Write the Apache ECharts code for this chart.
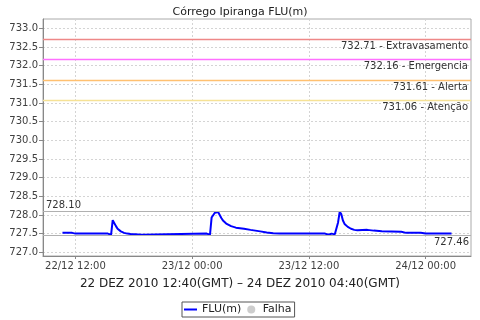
<!DOCTYPE html>
<html><head><meta charset="utf-8">
<script src="https://cdn.jsdelivr.net/npm/echarts@6/dist/echarts.min.js"></script>
<style>html,body{margin:0;padding:0;background:#fff}#c{width:480px;height:320px}</style>
</head><body><div id="c"></div>
<script>
const titleText = 'Córrego Ipiranga FLU(m)';
const periodText = '22 DEZ 2010 12:40(GMT) – 24 DEZ 2010 04:40(GMT)';
const seriesName = 'FLU(m)';
const failName = 'Falha';
const xMin = '2010-12-22 08:40';
const xMax = '2010-12-24 04:40';
const yMin = 726.9;
const yMax = 733.25;

const times = [
  '2010-12-22 10:40','2010-12-22 11:40','2010-12-22 12:00','2010-12-22 12:30','2010-12-22 12:40','2010-12-22 12:50',
  '2010-12-22 15:20','2010-12-22 15:30','2010-12-22 15:40','2010-12-22 15:50','2010-12-22 16:00','2010-12-22 16:10',
  '2010-12-22 16:20','2010-12-22 16:40','2010-12-22 17:00','2010-12-22 17:20','2010-12-22 17:40','2010-12-22 17:50',
  '2010-12-22 18:50','2010-12-22 19:00',
  '2010-12-23 01:30','2010-12-23 01:40','2010-12-23 01:50','2010-12-23 02:00','2010-12-23 02:10','2010-12-23 02:20',
  '2010-12-23 02:30','2010-12-23 02:40','2010-12-23 02:50','2010-12-23 03:00','2010-12-23 03:10','2010-12-23 03:30',
  '2010-12-23 04:00','2010-12-23 04:30','2010-12-23 05:20','2010-12-23 06:00','2010-12-23 07:00','2010-12-23 07:40',
  '2010-12-23 08:20','2010-12-23 09:00',
  '2010-12-23 13:20','2010-12-23 13:30','2010-12-23 13:40','2010-12-23 14:00','2010-12-23 14:20','2010-12-23 14:30',
  '2010-12-23 14:40','2010-12-23 14:50','2010-12-23 15:00','2010-12-23 15:10','2010-12-23 15:20','2010-12-23 15:30',
  '2010-12-23 15:40','2010-12-23 16:00','2010-12-23 16:20','2010-12-23 16:40','2010-12-23 17:00','2010-12-23 18:00',
  '2010-12-23 18:40','2010-12-23 19:30','2010-12-23 21:30','2010-12-23 22:00','2010-12-23 23:30','2010-12-24 00:00',
  '2010-12-24 02:40'
];
const values = [
  727.52,727.52,727.50,727.50,727.52,727.50,
  727.50,727.46,727.47,727.86,727.78,727.70,
  727.63,727.56,727.52,727.50,727.49,727.47,
  727.47,727.50,
  727.50,727.46,727.47,727.93,727.97,728.06,
  728.10,728.08,728.00,727.92,727.85,727.77,
  727.70,727.66,727.63,727.60,727.56,727.53,
  727.51,727.50,
  727.50,727.47,727.50,727.47,727.50,727.47,
  727.48,727.49,727.80,728.08,728.02,727.85,
  727.76,727.68,727.63,727.60,727.59,727.60,
  727.58,727.56,727.55,727.52,727.52,727.50,
  727.50
];
const thresholdValues = [732.71, 732.16, 731.61, 731.06];
const thresholdNames = ['Extravasamento', 'Emergencia', 'Alerta', 'Atenção'];
const thresholdColors = ['#ee8888', '#ff70ff', '#ffc070', '#f6e296'];
const maxValue = 728.10;
const minValue = 727.46;

const FONT = 'DejaVu Sans';
const chart = echarts.init(document.getElementById('c'), null, {renderer: 'canvas'});

const markData = thresholdValues.map((v, i) => ({
  yAxis: v,
  lineStyle: {color: thresholdColors[i], type: 'solid', width: 1.3, opacity: 1},
  label: {
    show: true, position: 'insideEndBottom', distance: [3, 2],
    formatter: v.toFixed(2) + ' - ' + thresholdNames[i],
    fontFamily: FONT, fontSize: 10, color: '#333'
  }
}));
markData.push({
  yAxis: maxValue,
  lineStyle: {color: '#b0b0b0', type: 'solid', width: 1},
  label: {show: true, position: 'insideStartTop', distance: [3, 1], formatter: maxValue.toFixed(2),
    fontFamily: FONT, fontSize: 10, color: '#333'}
});
markData.push({
  yAxis: minValue,
  lineStyle: {color: '#b0b0b0', type: 'solid', width: 1},
  label: {show: true, position: 'insideEndBottom', distance: [2, 2], formatter: minValue.toFixed(2),
    fontFamily: FONT, fontSize: 10, color: '#333'}
});

chart.setOption({
  animation: false,
  backgroundColor: '#fff',
  title: [
    {text: titleText, left: 'center', top: 2,
      textStyle: {fontFamily: FONT, fontSize: 11, fontWeight: 'normal', color: '#222'}},
    {text: periodText, left: 'center', top: 273,
      textStyle: {fontFamily: FONT, fontSize: 12, fontWeight: 'normal', color: '#222'}}
  ],
  legend: {
    left: 182, top: 302,
    padding: [2, 3, 2, 2],
    borderColor: '#555', borderWidth: 1, borderRadius: 0,
    itemWidth: 13, itemHeight: 8, itemGap: 6,
    textStyle: {fontFamily: FONT, fontSize: 11, color: '#222'},
    data: [{name: seriesName, icon: 'path://M0,0h13v2h-13z'}, {name: failName, icon: 'circle'}]
  },
  grid: {left: 43, right: 9, top: 19, bottom: 64, show: true, borderColor: '#aaa', borderWidth: 1},
  xAxis: {
    type: 'time',
    min: xMin, max: xMax, splitNumber: 3,
    axisLine: {show: true, lineStyle: {color: '#888'}},
    axisTick: {show: true, length: 3, lineStyle: {color: '#888'}},
    axisLabel: {
      showMinLabel: false, showMaxLabel: false, margin: 5,
      fontFamily: FONT, fontSize: 10, color: '#404040',
      formatter: (v) => echarts.time.format(v, '{dd}/{MM} {HH}:{mm}', false)
    },
    splitLine: {show: true, lineStyle: {color: '#d4d4d4', type: [2, 2]}}
  },
  yAxis: {
    type: 'value', min: yMin, max: yMax, splitNumber: 13,
    axisLine: {show: true, lineStyle: {color: '#888'}},
    axisTick: {show: true, length: 4, lineStyle: {color: '#888'}},
    axisLabel: {
      showMinLabel: false, showMaxLabel: false, margin: 5,
      fontFamily: FONT, fontSize: 10, color: '#404040',
      formatter: (v) => v.toFixed(1)
    },
    splitLine: {show: true, lineStyle: {color: '#d4d4d4', type: [2, 2]}}
  },
  series: [
    {
      name: seriesName, type: 'line', symbol: 'none',
      lineStyle: {color: '#0000ff', width: 2}, itemStyle: {color: '#0000ff'},
      data: times.map((t, i) => [t, values[i]]),
      z: 3,
      markLine: {silent: true, symbol: ['none', 'none'], animation: false, data: markData}
    },
    {name: failName, type: 'scatter', data: [], itemStyle: {color: '#c0c0c0'}}
  ]
});
</script></body></html>
